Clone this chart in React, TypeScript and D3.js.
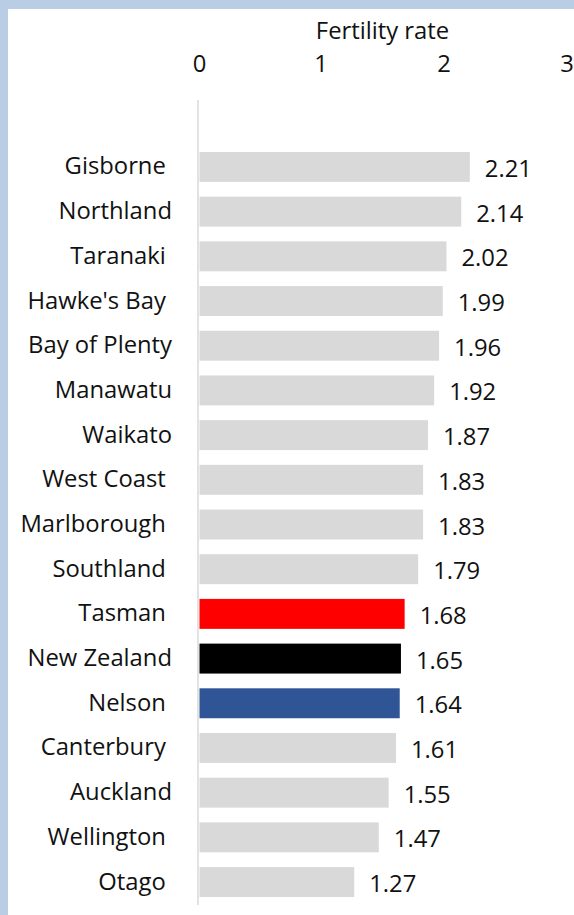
import React from "react";
import * as d3 from "d3";

const regions = [
  "Gisborne ", "Northland", "Taranaki ", "Hawke's Bay ", "Bay of Plenty", "Manawatu", "Waikato",
  "West Coast ", "Marlborough ", "Southland ", "Tasman ", "New Zealand", "Nelson ", "Canterbury ",
  "Auckland", "Wellington ", "Otago ",
];
const fertility = [2.21, 2.14, 2.02, 1.99, 1.96, 1.92, 1.87, 1.83, 1.83, 1.79, 1.68, 1.65, 1.64, 1.61, 1.55, 1.47, 1.27];
const barColors = [
  "#d9d9d9", "#d9d9d9", "#d9d9d9", "#d9d9d9", "#d9d9d9", "#d9d9d9", "#d9d9d9", "#d9d9d9", "#d9d9d9",
  "#d9d9d9", "#ff0000", "#000000", "#2f5597", "#d9d9d9", "#d9d9d9", "#d9d9d9", "#d9d9d9",
];
const xTicks = [0, 1, 2, 3];
const axisTitle = "Fertility rate";

const W = 574;
const H = 915;
const FONT = "'Open Sans', 'Noto Sans', sans-serif";
const FS = 23.8;

export default function App() {
  const x = d3.scaleLinear().domain([0, 3]).range([198, 567]);
  const y = d3
    .scaleBand<number>()
    .domain(d3.range(regions.length))
    .range([144.6, 904.4])
    .paddingInner(0.33)
    .paddingOuter(0.165);
  const bw = y.bandwidth();
  const fmt = d3.format(".2f");

  return (
    <div style={{ position: "absolute", left: 0, top: 0 }}>
      <svg width={W} height={H} style={{ display: "block", background: "#fff" }}>
        <rect x={0} y={0} width={W} height={9} fill="#b9cde5" />
        <rect x={0} y={0} width={8} height={H} fill="#b9cde5" />
        <g fontFamily={FONT} fill="#111" fontSize={FS}>
          <text x={x(1.5)} y={38.5} textAnchor="middle">
            {axisTitle}
          </text>
          {xTicks.map((t) => (
            <text key={t} x={x(t) + (t === 0 ? 1.5 : 0)} y={71.5} textAnchor="middle">
              {t}
            </text>
          ))}
        </g>
        {fertility.map((v, i) => (
          <rect key={i} x={x(0) + 1.5} y={y(i)!} width={x(v) - x(0) - 1.5} height={bw} fill={barColors[i]} />
        ))}
        <line x1={x(0)} x2={x(0)} y1={100} y2={905} stroke="#d9d9d9" strokeWidth={1.5} />
        <g fontFamily={FONT} fill="#111" fontSize={FS}>
          {regions.map((r, i) => (
            <text
              key={r}
              x={172}
              y={y(i)! + bw / 2 + 7.5}
              textAnchor="end"
              style={{ whiteSpace: "pre" }}
            >
              {r}
            </text>
          ))}
          {fertility.map((v, i) => (
            <text key={i} x={x(v) + 15} y={y(i)! + bw / 2 + 10}>
              {fmt(v)}
            </text>
          ))}
        </g>
      </svg>
    </div>
  );
}
